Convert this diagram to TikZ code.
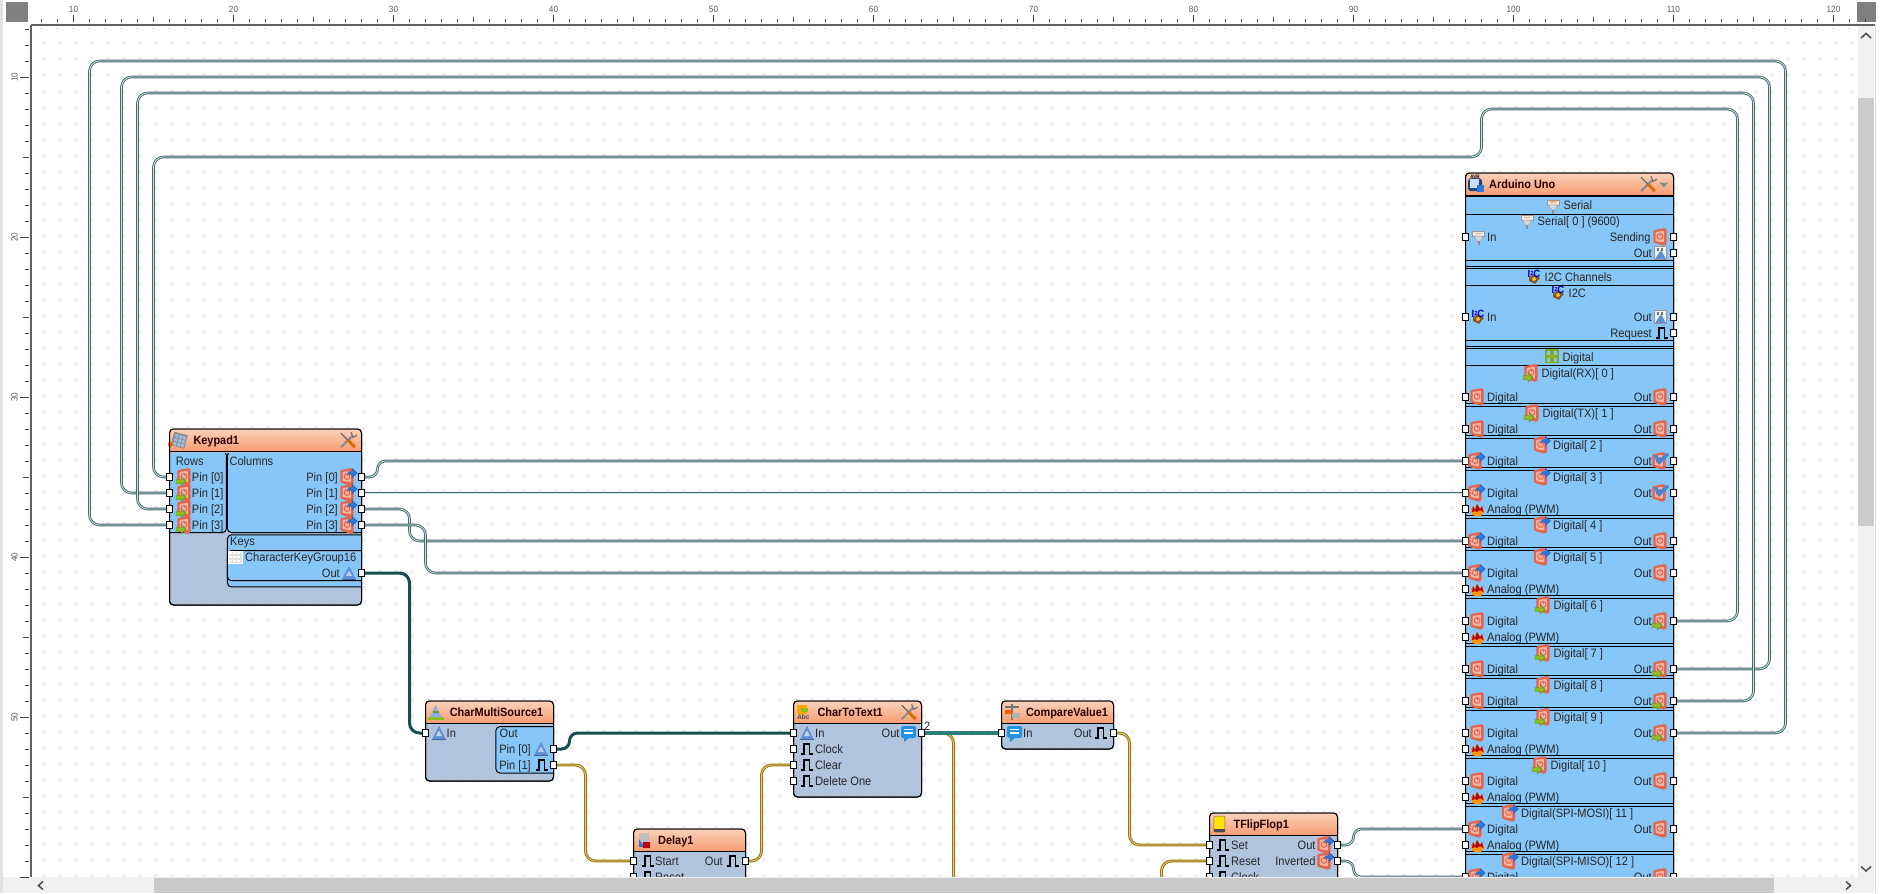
\documentclass[tikz,border=0pt]{standalone}
\usepackage{fontspec}
\setmainfont[FakeStretch=0.91]{Liberation Sans}
\usetikzlibrary{arrows.meta}
\definecolor{bodyc}{HTML}{B0C4DE}
\definecolor{panelc}{HTML}{87C6F8}
\definecolor{hdrT}{HTML}{FAD2BA}
\definecolor{hdrB}{HTML}{F8976C}
\definecolor{wireD}{HTML}{44696E}
\definecolor{wireL}{HTML}{D2E0E0}
\definecolor{goldD}{HTML}{9A7410}
\definecolor{goldL}{HTML}{E6CC70}
\definecolor{tealD}{HTML}{124F4F}
\definecolor{tealM}{HTML}{2B7D78}
\definecolor{dotc}{HTML}{F0F0F0}
\definecolor{icR}{HTML}{E2654E}
\definecolor{icRL}{HTML}{F6B4A2}
\definecolor{icG}{HTML}{8CBE22}
\definecolor{icB}{HTML}{2A78DC}
\definecolor{icT}{HTML}{5F8FD6}
\pgfdeclarelayer{bg}\pgfdeclarelayer{fg}\pgfsetlayers{bg,main,fg}
\tikzset{
 pxs/.style={shift={(86.5pt,-83pt)},x=1pt,y=-1pt},
 cbody/.style={draw=black,fill=bodyc,line width=1pt,rounded corners=4pt,inner sep=0pt},
 pinbox/.style={draw=black,fill=white,line width=.9pt,minimum size=6.5pt,inner sep=0pt},
 txt/.style={inner sep=0pt,text height=9pt,text depth=1pt,font=\fontsize{12.2pt}{14pt}\selectfont,text=black!85},
 ttl/.style={inner sep=0pt,text height=9pt,text depth=1pt,font=\fontsize{12pt}{14pt}\selectfont\bfseries,text=black!85!red},
 dig/.style={draw=wireD,double=wireL,line width=.9pt,double distance=.8pt,rounded corners=10pt},
 gold/.style={draw=goldD,double=goldL,line width=1pt,double distance=.9pt,rounded corners=10pt},
 teal/.style={draw=tealD,line width=3pt,rounded corners=10pt},
 textw/.style={draw=tealM,line width=4pt},
 rul/.style={font=\fontsize{9pt}{10pt}\selectfont,text=black!65,inner sep=0pt},
 chev/.style={draw=black!70,line width=1.5pt}
}
\newcounter{tn}
\newcommand\lt[3]{\stepcounter{tn}\node[txt,anchor=west] (t\arabic{tn}) at ({(#1+86.5)/16},#2) {#3};}
\newcommand\rt[3]{\stepcounter{tn}\node[txt,anchor=east] (t\arabic{tn}) at ({(#1+86.5)/16},#2) {#3};}
\newcommand\ti[3]{\stepcounter{tn}\node[ttl,anchor=west] (t\arabic{tn}) at ({(#1+86.5)/16},#2) {#3};}
\newcommand\pinb[3]{\node[pinbox] (#1) at (#2,#3) {};}
\newcommand\place[3]{\begin{scope}[shift={({(#2+86.5)/16},#3)},x=1pt,y=-1pt]#1\end{scope}}
% icons
\newcommand\icRed{\begin{scope}[scale=1.12]\fill[icR,rounded corners=1pt] (-6,-6)--(4,-8)--(6,-7)--(6,6)--(4,8)--(-6,5)--cycle;
 \fill[icRL,rounded corners=1pt] (-4,-4.5)--(3.5,-5.5)--(3.5,5)--(-4,3.5)--cycle;
 \draw[icR,line width=1pt] (0,-.5) circle (2.6); \draw[icR,line width=.9pt] (0,-4)--(0,-1);\end{scope}}
\newcommand\icGA{\fill[icG,draw=icG!65!black,line width=.4pt] (-8,2.5)--(-3,2.5)--(-3,-.5)--(2,4.5)--(-3,9)--(-3,6.5)--(-8,6.5)--cycle;}
\newcommand\icBA{\fill[icB,draw=icB!70!black,line width=.4pt] (-1,-5.5)--(3,-5.5)--(3,-8.5)--(8,-4)--(3,.5)--(3,-2.5)--(-1,-2.5)--cycle;}
\newcommand\icRedG{\icRed\icGA}
\newcommand\icRedB{\begin{scope}[xshift=-2pt]\icRed\end{scope}\icBA}
\newcommand\icCheck{\begin{scope}[xshift=-1pt]\icRed\end{scope}\fill[icB!90!white] (-7,-6)--(-3,-6)--(-1,-2)--(7,-8)--(9,-6)--(-1,4)--cycle;}
\newcommand\icFlame{\fill[orange!85!yellow] (-6,6)--(-7,1)--(-5,-3)--(-3,1)--(-1,-5)--(2,0)--(4,-3)--(6,3)--(3,7)--(-2,7)--cycle;
 \fill[red!75!black] (-6,3)--(-5,-3)--(-3,1)--(-1,-5)--(2,0)--(4,-3)--(5.5,3)--(2,1)--(-1,3)--(-3,2)--cycle;}
\newcommand\icPulse{\draw[black,line width=1.4pt] (-6.5,5)--(-3,5)--(-3,-5)--(2.5,-5)--(2.5,5)--(6,5);}
\newcommand\icChar{\fill[icT] (-7,6.5)--(0,-7)--(7,6.5)--cycle;\fill[white!60!icT] (-3,3)--(0,-2.5)--(3,3)--cycle;\fill[icT!70!black] (-7,5.5) rectangle (7,7);}
\newcommand\icText{\fill[icB!80!cyan,rounded corners=2pt] (-8,-7) rectangle (7,5);\fill[icB!80!cyan] (-5,4)--(-5,9)--(1,4)--cycle;
 \fill[white] (-5,-4) rectangle (4,-2.6);\fill[white] (-5,-.8) rectangle (4,.6);}
\newcommand\icSer{\fill[black!8,draw=black!40,line width=.5pt] (-6,-6) rectangle (6,-1);\fill[black!15,draw=black!40,line width=.5pt] (-4.5,-1)--(4.5,-1)--(2,4)--(-2,4)--cycle;\fill[black!45] (-1,4) rectangle (1,8);\fill[orange!60] (-3,-4.5) rectangle (3,-3);}
\newcommand\icBin{\fill[black!5,draw=black!40,line width=.4pt] (-6,-7) rectangle (6,6);\fill[icT] (-5,6)--(1,-3)--(6,6)--cycle;\fill[black!55] (-3,-5) rectangle (-1,-2);\fill[black!55] (1,-5) rectangle (3,-2);}
\newcommand\icIIC{\fill[brown!70!black] (-5,0)--(0,-3)--(6,1)--(1,7)--(-5,4)--cycle;\fill[yellow!60!brown] (-2,1)--(1,0)--(2,3)--(-1,4)--cycle;
 \node[inner sep=0pt,font=\fontsize{10.5pt}{11pt}\selectfont\bfseries,text=blue!80!black] at (0,-3) {I\raisebox{2pt}{\fontsize{6pt}{6pt}\selectfont 2}C};}
\newcommand\icGroup{\foreach \a/\b in {-6/-7,1/-7,-6/0,1/0}{\draw[icG!90!black,line width=1.2pt] (\a,\b) rectangle ++(5,5.5);}\fill[icG] (-2,-2) rectangle (2,1);}
\newcommand\icKeyG{\fill[black!12,draw=white,line width=.5pt] (-7,-6) rectangle (7,6);\foreach \a in {-6,-2,2}{\foreach \b in {-5,-1,3}{\fill[white] (\a,\b) rectangle ++(3,2.4);}}}
\newcommand\icTools{\draw[black!45,line width=2.2pt] (-7,7)--(4,-4);\draw[black!55,line width=1.2pt] (3,-8)--(5,-3)--(9,-5);\draw[black!60,line width=1.2pt] (-7,-7)--(0,0);\draw[orange!85!black,line width=3pt] (0,0)--(7,7);}
\newcommand\icKeypad{\fill[black!45,rotate=-15] (-7,-7) rectangle (7,7);\foreach \a in {-5,-1,3}{\foreach \b in {-5,-1,3}{\fill[icT!60!white,rotate=-15] (\a,\b) rectangle ++(3,3);}}\fill[orange!70!red] (-9,4) circle (2.5);}
\newcommand\icCMS{\fill[icG] (-8,5) rectangle (8,8);\fill[icT!70!white] (-6,5)--(0,-7)--(6,5)--cycle;\fill[icG!80!black] (-3,-1) rectangle (3,1);}
\newcommand\icDelay{\fill[black!25] (-5,-7) rectangle (5,7);\fill[icB] (-5,7)--(-5,-1)--(1,7)--cycle;\fill[red!75!black] (-1,2) rectangle (6,8);}
\newcommand\icCTT{\fill[orange!70!yellow] (-6,-7) rectangle (4,2);\fill[icG] (-2,-4) rectangle (5,0);\node[inner sep=0pt,font=\fontsize{7pt}{7pt}\selectfont\bfseries,text=black!70] at (0,5) {Abc};}
\newcommand\icCmp{\draw[black!55,line width=1.5pt] (-7,-5)--(7,-5);\draw[black!55,line width=1.5pt] (0,-8)--(0,8);\fill[orange!70!red] (-7,-2) rectangle (0,2);\fill[black!30] (0,1) rectangle (8,6);}
\newcommand\icTFF{\fill[yellow!85!orange,draw=black!60,line width=.5pt,rounded corners=1pt] (-5.5,-8) rectangle (5.5,8);\fill[black!70] (-5.5,5) rectangle (5.5,8);}
\newcommand\icArd{\fill[icB!60!black,rounded corners=3pt] (-7,-6) rectangle (7,7);\fill[white!70!icT] (-5,-5) rectangle (4,4);\fill[icB] (2,1) rectangle (9,8);\node[inner sep=0pt,font=\fontsize{5pt}{5pt}\selectfont\bfseries,text=black] at (0,-7) {AVR};}
% boxes
\newcommand\cbox[8]{\node[cbody,minimum width={(#4-#2)*16pt},minimum height={(#5-#3)*16pt}] (#1) at ({(#2+#4)/2},{(#3+#5)/2}) {};
 \begin{scope}\clip (#2,#3) rectangle (#4,{#3+1.4});\shade[top color=hdrT,bottom color=hdrB,rounded corners=4pt] (#2,#3) rectangle (#4,{#3+1.5});\end{scope}
 \draw[line width=1pt] (#2,{#3+1.4})--(#4,{#3+1.4});
 \ti{#7}{#3+0.7}{#6}
 \place{#8}{#7-14}{#3+0.7}}
\newcommand\outl[4]{\draw[line width=1pt,rounded corners=4pt] (#1,#2) rectangle (#3,#4);}
\newcommand\lpanel[4]{\begin{scope}\clip ({#1-.1},{#2-.1}) rectangle (#3,{#4+.1});\draw[fill=panelc,line width=1pt,rounded corners=4pt] (#1,#2) rectangle ({#3+.5},#4);\end{scope}}
% Arduino rows
\newcommand\dgrow[3]{\pinb{aL#1}{97}{#1}\pinb{aR#1}{110}{#1}\place{#2}{1477}{#1}\lt{1487}{#1}{Digital}\rt{1652}{#1}{Out}\place{#3}{1660}{#1}}
\newcommand\anrow[1]{\pinb{aA#1}{97}{#1}\place{\icFlame}{1478}{#1}\lt{1487}{#1}{Analog (PWM)}}
\newcommand\sect[1]{\draw[line width=.9pt] (97,{#1-.07})--(110,{#1-.07});\draw[line width=.9pt] (97,{#1+.07})--(110,{#1+.07});}
\newcommand\dtitle[4]{\place{#1}{#2}{#3}\lt{#2+10.5}{#3}{#4}}
\begin{document}
\begin{tikzpicture}[x=16pt,y=-16pt]
\begin{scope}[pxs]\useasboundingbox (0,0) rectangle (1882,893);\end{scope}
\begin{pgfonlayer}{bg}
\begin{scope}[pxs]
\fill[white] (0,0) rectangle (1882,893);
\foreach \kk in {0,...,52}{\draw[dotc,line width=4pt,dash pattern=on 4pt off 12pt] (41.5,43.5+16*\kk)--(1856,43.5+16*\kk);}
\foreach \cc in {0,...,113}{\fill[black!40] (41.2+16*\cc,28.5) rectangle ++(1,1);}
\end{scope}
\end{pgfonlayer}

% ===== Keypad
\cbox{keypad}{16}{32}{28}{43}{Keypad1}{193.3}{\icKeypad}
\begin{scope}\clip (16,33.56) rectangle (19.6,38.5);\draw[fill=panelc,line width=1pt,rounded corners=4pt] (15.5,33.4) rectangle (19.56,38.47);\end{scope}
\begin{scope}\clip (19.6,33.56) rectangle (28,38.5);\draw[fill=panelc,line width=1pt,rounded corners=4pt] (19.62,33.4) rectangle (28.5,38.47);\end{scope}
\lpanel{19.62}{38.62}{28}{41.87}
\lpanel{19.62}{39.6}{28}{41.48}
\outl{16}{32}{28}{43}
\place{\icTools}{348}{32.7}
\lt{175.7}{34.05}{Rows}\lt{229.3}{34.05}{Columns}\lt{230}{39.05}{Keys}
\foreach \ii [evaluate=\ii as \vv using int(35+\ii)] in {0,1,2,3}{
 \pinb{kL\ii}{16}{\vv}\pinb{kR\ii}{28}{\vv}
 \place{\icRedG}{184}{\vv}\lt{191.7}{\vv}{Pin [\ii]}
 \rt{338}{\vv}{Pin [\ii]}\place{\icRedB}{349}{\vv}}
\place{\icKeyG}{235}{40}\lt{245}{40}{CharacterKeyGroup16}
\rt{340}{41}{Out}\place{\icChar}{349}{41}\pinb{kOut}{28}{41}

% ===== CharMultiSource
\cbox{cms}{32}{49}{40}{54}{CharMultiSource1}{449.6}{\icCMS}
\lpanel{36.4}{50.6}{40}{53.5}
\outl{32}{49}{40}{54}
\pinb{cmsIn}{32}{51}\place{\icChar}{439}{51}\lt{446.5}{51}{In}
\lt{499.5}{51}{Out}\rt{531}{52}{Pin [0]}\rt{531}{53}{Pin [1]}
\place{\icChar}{541}{52}\place{\icPulse}{542}{53}
\pinb{cmsP0}{40}{52}\pinb{cmsP1}{40}{53}

% ===== Delay
\cbox{delay}{45}{57}{52}{60.9}{Delay1}{658}{\icDelay}
\outl{45}{57}{52}{60.9}
\pinb{dlStart}{45}{59}\place{\icPulse}{648}{59}\lt{655}{59}{Start}
\pinb{dlReset}{45}{60}\place{\icPulse}{648}{60}\lt{655}{60}{Reset}
\rt{723}{59}{Out}\place{\icPulse}{733}{59}\pinb{dlOut}{52}{59}

% ===== CharToText
\cbox{ctt}{55}{49}{63}{55}{CharToText1}{817.4}{\icCTT}
\outl{55}{49}{63}{55}
\place{\icTools}{908.6}{49.7}
\pinb{cttIn}{55}{51}\place{\icChar}{807}{51}\lt{815}{51}{In}
\pinb{cttClk}{55}{52}\place{\icPulse}{807}{52}\lt{815}{52}{Clock}
\pinb{cttClr}{55}{53}\place{\icPulse}{807}{53}\lt{815}{53}{Clear}
\pinb{cttDel}{55}{54}\place{\icPulse}{807}{54}\lt{815}{54}{Delete One}
\rt{899.7}{51}{Out}\place{\icText}{909}{51}\pinb{cttOut}{63}{51}
\stepcounter{tn}\node[txt,anchor=west] (t\arabic{tn}) at ({(924+86.5)/16},50.6) {2};

% ===== CompareValue
\cbox{cmp}{68}{49}{75}{52}{CompareValue1}{1025.8}{\icCmp}
\outl{68}{49}{75}{52}
\pinb{cmpIn}{68}{51}\place{\icText}{1015}{51}\lt{1023}{51}{In}
\rt{1092}{51}{Out}\place{\icPulse}{1101}{51}\pinb{cmpOut}{75}{51}

% ===== TFlipFlop
\cbox{tff}{81}{56}{89}{60.9}{TFlipFlop1}{1233.4}{\icTFF}
\outl{81}{56}{89}{60.9}
\pinb{tSet}{81}{58}\place{\icPulse}{1223}{58}\lt{1231}{58}{Set}
\pinb{tRes}{81}{59}\place{\icPulse}{1223}{59}\lt{1231}{59}{Reset}
\pinb{tClk}{81}{60}\place{\icPulse}{1223}{60}\lt{1231}{60}{Clock}
\rt{1315.7}{58}{Out}\place{\icRedB}{1326}{58}\pinb{tOut}{89}{58}
\rt{1315.7}{59}{Inverted}\place{\icRedB}{1326}{59}\pinb{tInv}{89}{59}

% ===== Arduino
\cbox{ard}{97}{16}{110}{60.9}{Arduino Uno}{1489}{\icArd}
\fill[panelc] (97,17.5) rectangle (110,60.9);
\place{\icTools}{1648}{16.7}
\fill[black!45] ({(1659.5+86.5)/16},{(184+83)/16-.08})--++(.55,0)--++(-.275,.3)--cycle;
\draw[line width=.9pt] (97,17.47)--(110,17.47);
\foreach \ss in {18.58,21.45,23,26.45,28}{\draw[line width=.9pt] (97,\ss)--(110,\ss);}
\foreach \ss in {21.9,26.9,30.5,32.5,34.5,37.5,39.5,42.5,45.5,47.5,49.5,52.5,55.5,58.5}{\sect{\ss}}
\outl{97}{16}{110}{60.9}
\dtitle{\icSer}{1553}{18.05}{Serial}
\dtitle{\icSer}{1527}{19}{Serial[ 0 ] (9600)}
\pinb{sIn}{97}{20}\place{\icSer}{1478.5}{20}\lt{1487}{20}{In}
\rt{1650.7}{20}{Sending}\place{\icRed}{1660}{20}\pinb{sSend}{110}{20}
\rt{1652}{21}{Out}\place{\icBin}{1660}{21}\pinb{sOut}{110}{21}
\dtitle{\icIIC}{1534}{22.5}{I2C Channels}
\dtitle{\icIIC}{1558}{23.5}{I2C}
\pinb{iIn}{97}{25}\place{\icIIC}{1478}{25}\lt{1487}{25}{In}
\rt{1652}{25}{Out}\place{\icBin}{1660}{25}\pinb{iOut}{110}{25}
\rt{1652}{26}{Request}\place{\icPulse}{1662}{26}\pinb{iReq}{110}{26}
\dtitle{\icGroup}{1552}{27.5}{Digital}
\dtitle{\icRedG}{1531}{28.5}{Digital(RX)[ 0 ]}
\dgrow{30}{\icRed}{\icRed}
\dtitle{\icRedG}{1532}{31}{Digital(TX)[ 1 ]}
\dgrow{32}{\icRed}{\icRed}
\dtitle{\icRedB}{1542.5}{33}{Digital[ 2 ]}
\dgrow{34}{\icRedB}{\icCheck}
\dtitle{\icRedB}{1542.5}{35}{Digital[ 3 ]}
\dgrow{36}{\icRedB}{\icCheck}\anrow{37}
\dtitle{\icRedB}{1542.5}{38}{Digital[ 4 ]}
\dgrow{39}{\icRedB}{\icRed}
\dtitle{\icRedB}{1542.5}{40}{Digital[ 5 ]}
\dgrow{41}{\icRedB}{\icRed}\anrow{42}
\dtitle{\icRedG}{1543}{43}{Digital[ 6 ]}
\dgrow{44}{\icRed}{\icRedG}\anrow{45}
\dtitle{\icRedG}{1543}{46}{Digital[ 7 ]}
\dgrow{47}{\icRed}{\icRedG}
\dtitle{\icRedG}{1543}{48}{Digital[ 8 ]}
\dgrow{49}{\icRed}{\icRedG}
\dtitle{\icRedG}{1543}{50}{Digital[ 9 ]}
\dgrow{51}{\icRed}{\icRedG}\anrow{52}
\dtitle{\icRedG}{1540}{53}{Digital[ 10 ]}
\dgrow{54}{\icRed}{\icRed}\anrow{55}
\dtitle{\icRedB}{1510.5}{56}{Digital(SPI-MOSI)[ 11 ]}
\dgrow{57}{\icRedB}{\icRed}\anrow{58}
\dtitle{\icRedB}{1510.5}{59}{Digital(SPI-MISO)[ 12 ]}
\dgrow{60}{\icRedB}{\icRed}

% ===== Wires
\begin{pgfonlayer}{bg}
\draw[dig] (kL0.center)--(15,35)--(15,15)--(98,15)--(98,12)--(114,12)--(114,44)--(aR44.center);
\draw[dig] (kL1.center)--(13,36)--(13,10)--(116,10)--(116,47)--(aR47.center);
\draw[dig] (kL2.center)--(14,37)--(14,11)--(115,11)--(115,49)--(aR49.center);
\draw[dig] (kL3.center)--(11,38)--(11,9)--(117,9)--(117,51)--(aR51.center);
\draw[dig,rounded corners=8pt] (kR0.center)--(29,35)--(29,34)--(aL34.center);
\draw[dig] (kR1.center)--(aL36.center);
\draw[dig] (kR2.center)--(31,37)--(31,39)--(aL39.center);
\draw[dig] (kR3.center)--(32,38)--(32,41)--(aL41.center);
\draw[dig,rounded corners=8pt] (tOut.center)--(90,58)--(90,57)--(aL57.center);
\draw[dig,rounded corners=8pt] (tInv.center)--(90,59)--(90,60)--(aL60.center);
\draw[teal] (kOut.center)--(31,41)--(31,51)--(cmsIn.center);
\draw[teal,rounded corners=8pt] (cmsP0.center)--(41,52)--(41,51)--(cttIn.center);
\draw[gold] (cmsP1.center)--(42,53)--(42,59)--(dlStart.center);
\draw[gold] (dlOut.center)--(53,59)--(53,53)--(cttClr.center);
\draw[gold] (cmpOut.center)--(76,51)--(76,58)--(tSet.center);
\draw[gold] (tRes.center)--(78,59)--(78,60.9);
\draw[gold] (cttOut.center)--(65,51)--(65,60.9);
\draw[textw] (cttOut.center)--(cmpIn.center);
\end{pgfonlayer}

% ===== Window chrome
\begin{pgfonlayer}{fg}
\begin{scope}[pxs]
\fill[white] (0,0) rectangle (1882,25);
\fill[white] (0,0) rectangle (31,877);
\fill[black!12] (0,0) rectangle (2.5,893);
\fill[black!50] (6,2) rectangle (28,22);
\fill[black!50] (1857,2) rectangle (1876,22);
\fill[black!6] (1858,25) rectangle (1874,877);
\fill[black!20] (1858,98) rectangle (1874,526);
\fill[white] (1874,25) rectangle (1882,893);
\draw[black!15,line width=.8pt] (1875,25)--(1875,893);
\fill[black!6] (31,877) rectangle (1874,893);
\fill[black!6] (2.5,877) rectangle (31,893);
\fill[black!21] (154,877.5) rectangle (1774,893);
\draw[black!62,line width=1.2pt] (31,25)--(1875,25);
\draw[black!62,line width=1.2pt] (31,25)--(31,877);
\foreach \uu in {8,...,122}{
 \pgfmathtruncatemacro\mfive{mod(\uu,5)}\pgfmathtruncatemacro\mten{mod(\uu,10)}
 \pgfmathsetmacro\ytop{\mten==0?15:(\mfive==0?17:19.5)}
 \draw[black!75,line width=.7pt] (16*\uu-86.5,\ytop)--(16*\uu-86.5,22);}
\foreach \vw in {7,...,60}{
 \pgfmathtruncatemacro\mfive{mod(\vw,5)}\pgfmathtruncatemacro\mten{mod(\vw,10)}
 \pgfmathsetmacro\xtop{\mten==0?20:(\mfive==0?22.5:24.5)}
 \draw[black!75,line width=.7pt] (\xtop,16*\vw-83)--(29,16*\vw-83);}
\foreach \uu in {1,...,12}{\node[rul] (rx\uu) at (160*\uu-86.5,9) {\the\numexpr\uu*10\relax};}
\foreach \vw in {1,...,5}{\node[rul,rotate=90] (ry\vw) at (14.5,160*\vw-83) {\the\numexpr\vw*10\relax};}
\draw[chev] (1861,38)--(1866,33.5)--(1871,38);
\draw[chev] (1861,866.5)--(1866,871)--(1871,866.5);
\draw[chev] (43,881.5)--(38.5,885.5)--(43,889.5);
\draw[chev] (1846,881.5)--(1850.5,885.5)--(1846,889.5);
\end{scope}
\end{pgfonlayer}
\end{tikzpicture}
\end{document}
